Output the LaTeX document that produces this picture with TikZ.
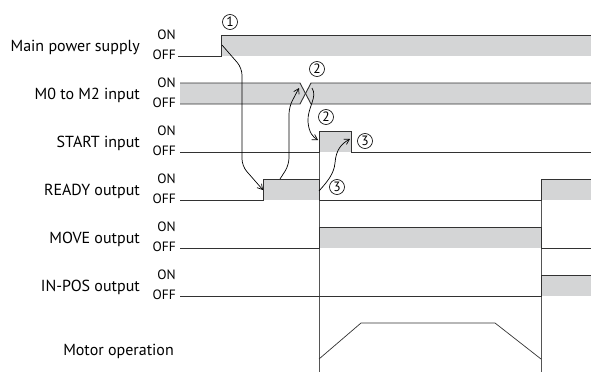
\documentclass[tikz,border=0pt]{standalone}
\usepackage{fontspec}
\setmainfont{PT Sans}
\usetikzlibrary{arrows.meta}
\definecolor{sigfill}{RGB}{212,213,214}
\definecolor{sigline}{RGB}{50,50,50}
\definecolor{guide}{RGB}{85,85,85}

\begin{document}
\begin{tikzpicture}[x=1pt, y=-1pt,
  sig/.style={draw=sigline, line width=0.9pt},
  band/.style={fill=sigfill},
  guideln/.style={draw=guide, line width=0.7pt},
  signame/.style={anchor=base east, inner sep=0pt,
    font=\fontsize{16}{18}\selectfont},
  lvl/.style={anchor=base east, inner sep=0pt,
    font=\fontsize{13.5}{15}\selectfont},
  num/.style={circle, draw=black, line width=0.65pt, inner sep=0pt,
    minimum size=15pt, font=\fontsize{13.5}{13.5}\selectfont},
  ar/.style={-{Straight Barb[length=5pt, width=6pt]}, line width=0.7pt}
]
  \useasboundingbox (0,0) rectangle (591,372);

  % Signal names
  \node[signame] (power) at (140,51)  {Main power supply};
  \node[signame] (msel)  at (140,99)  {M0 to M2 input};
  \node[signame] (start) at (140,147) {START input};
  \node[signame] (ready) at (140,195) {READY output};
  \node[signame] (move)  at (140,243) {MOVE output};
  \node[signame] (inpos) at (140,291) {IN-POS output};
  \node[signame] (motor) at (174,355) {Motor operation};

  % ON / OFF levels
  \node[lvl] (on1)  at (176,39.5)  {ON};  \node[lvl] (off1) at (176,59.5)  {OFF};
  \node[lvl] (on2)  at (176,87.5)  {ON};  \node[lvl] (off2) at (176,107.5) {OFF};
  \node[lvl] (on3)  at (176,135.5) {ON};  \node[lvl] (off3) at (176,155.5) {OFF};
  \node[lvl] (on4)  at (176,183.5) {ON};  \node[lvl] (off4) at (176,203.5) {OFF};
  \node[lvl] (on5)  at (176,231.5) {ON};  \node[lvl] (off5) at (176,251.5) {OFF};
  \node[lvl] (on6)  at (176,279.5) {ON};  \node[lvl] (off6) at (176,299.5) {OFF};

  % Shaded ON periods
  \fill[band] (221,35) rectangle (591,56);
  \fill[band] (180,83) -- (300,83) -- (305.5,93.5) -- (300,104) -- (180,104) -- cycle;
  \fill[band] (311,83) -- (591,83) -- (591,104) -- (311,104) -- (305.5,93.5) -- cycle;
  \fill[band] (319,131) rectangle (351,152);
  \fill[band] (263,179) rectangle (319,200);
  \fill[band] (541,179) rectangle (591,200);
  \fill[band] (319,227) rectangle (541,248);
  \fill[band] (541,275) rectangle (591,296);

  % Guide lines
  \draw[guideln] (319,131) -- (319,372);
  \draw[guideln] (541,179) -- (541,372);

  % Signals
  \draw[sig] (178,56) -- (221,56) -- (221,35) -- (591,35);
  \draw[sig] (180,83) -- (300,83) -- (311,104) -- (591,104);
  \draw[sig] (180,104) -- (300,104) -- (311,83) -- (591,83);
  \draw[sig] (180,152) -- (319,152) -- (319,131) -- (351,131)
    -- (351,152) -- (591,152);
  \draw[sig] (180,200) -- (263,200) -- (263,179) -- (319,179)
    -- (319,200) -- (541,200) -- (541,179) -- (591,179);
  \draw[sig] (180,248) -- (319,248) -- (319,227) -- (541,227)
    -- (541,248) -- (591,248);
  \draw[sig] (180,296) -- (541,296) -- (541,275) -- (591,275);
  \draw[sig, line width=0.7pt] (319,359) -- (361,323) -- (495,323) -- (541,359);

  % Sequence numbers
  \node[num] (n1)  at (230,22)  {1};
  \node[num] (n2a) at (317,69)  {2};
  \node[num] (n2b) at (326,117) {2};
  \node[num] (n3a) at (365,141) {3};
  \node[num] (n3b) at (337,187) {3};

  % Event arrows
  \coordinate (a1s) at (222,45);
  \coordinate (a1e) at (263,190);
  \coordinate (a2s) at (280,179);
  \coordinate (a2e) at (299,88);
  \coordinate (a3s) at (312,88);
  \coordinate (a3e) at (318,140);
  \coordinate (a4s) at (319,191);
  \coordinate (a4e) at (350,139);
  \draw[ar, rounded corners=7pt] (a1s) -- (242,68) -- (242,166) -- (a1e);
  \draw[ar, rounded corners=7pt] (a2s) -- (289,165) -- (289,107) -- (a2e);
  \draw[ar] (a3s) .. controls (318,97) and (307,108) .. (308,122)
    .. controls (309,133) and (313,137) .. (a3e);
  \draw[ar] (a4s) .. controls (327,182) and (334,174) .. (335,163)
    .. controls (336,150) and (341,144) .. (a4e);
\end{tikzpicture}
\end{document}
